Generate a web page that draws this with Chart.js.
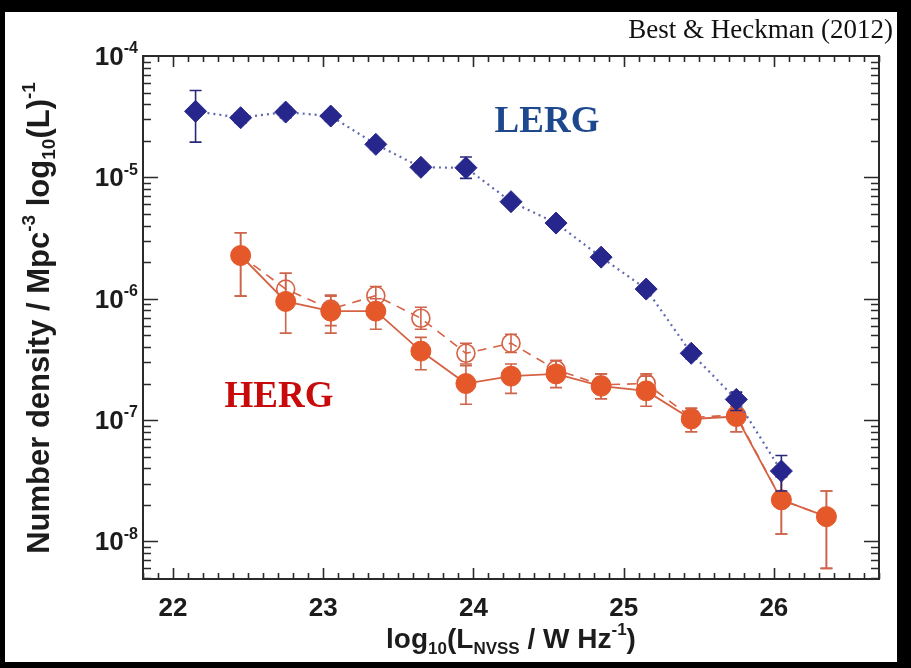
<!DOCTYPE html>
<html lang="en">
<head>
<meta charset="UTF-8">
<title>LERG / HERG radio luminosity functions</title>
<script src="https://cdn.jsdelivr.net/npm/chart.js"></script>
<style>
  html, body { margin: 0; padding: 0; background: #000; }
  canvas { display: block; }
</style>
</head>
<body>
<canvas id="lf" width="911" height="668"></canvas>
<script>
// LERG (blue diamonds, dotted)
const lergX  = [22.15, 22.45, 22.75, 23.05, 23.35, 23.65, 23.95, 24.25, 24.55, 24.85, 25.15, 25.45, 25.75, 26.05];
const lergY  = [3.5e-5, 3.1e-5, 3.45e-5, 3.2e-5, 1.87e-5, 1.21e-5, 1.2e-5, 6.3e-6, 4.2e-6, 2.2e-6, 1.2e-6, 3.55e-7, 1.48e-7, 3.8e-8];
const lergHi = [5.2e-5, 3.4e-5, 3.8e-5, 3.5e-5, 2.0e-5, 1.3e-5, 1.47e-5, 6.8e-6, 4.5e-6, 2.35e-6, 1.3e-6, 3.9e-7, 1.7e-7, 5.1e-8];
const lergLo = [1.95e-5, 2.8e-5, 3.1e-5, 2.9e-5, 1.7e-5, 1.1e-5, 0.98e-5, 5.8e-6, 3.9e-6, 2.05e-6, 1.1e-6, 3.2e-7, 1.2e-7, 2.6e-8];

// HERG (filled circles, solid)
const hergX  = [22.45, 22.75, 23.05, 23.35, 23.65, 23.95, 24.25, 24.55, 24.85, 25.15, 25.45, 25.75, 26.05, 26.35];
const hergY  = [2.27e-6, 9.5e-7, 7.9e-7, 7.9e-7, 3.7e-7, 2.0e-7, 2.3e-7, 2.4e-7, 1.9e-7, 1.74e-7, 1.02e-7, 1.07e-7, 2.2e-8, 1.6e-8];
const hergHi = [3.5e-6, 1.62e-6, 1.07e-6, 1.0e-6, 4.8e-7, 2.8e-7, 2.9e-7, 3.1e-7, 2.4e-7, 2.3e-7, 1.25e-7, 1.3e-7, 3.4e-8, 2.6e-8];
const hergLo = [1.05e-6, 5.2e-7, 5.2e-7, 5.6e-7, 2.6e-7, 1.35e-7, 1.66e-7, 1.85e-7, 1.5e-7, 1.3e-7, 0.8e-7, 0.8e-7, 1.15e-8, 6e-9];

// HERG alternative (open circles, dashed)
const openY  = [2.27e-6, 1.2e-6, 8.2e-7, 1.06e-6, 6.9e-7, 3.55e-7, 4.3e-7, 2.6e-7, 1.95e-7, 2.0e-7, 1.05e-7, 1.1e-7, 2.2e-8, 1.6e-8];
const openHi = [3.5e-6, 1.62e-6, 1.05e-6, 1.26e-6, 8.5e-7, 4.3e-7, 5.1e-7, 3.1e-7, 2.4e-7, 2.4e-7, 1.25e-7, 1.3e-7, 3.4e-8, 2.6e-8];
const openLo = [1.05e-6, 8.5e-7, 6e-7, 8.6e-7, 5.6e-7, 2.9e-7, 3.6e-7, 2.1e-7, 1.5e-7, 1.6e-7, 0.8e-7, 0.8e-7, 1.15e-8, 6e-9];

// axis ticks
const xTickLabels = ['22', '23', '24', '25', '26'];
const yTickExps = [-4, -5, -6, -7, -8];

const BLUE = 'rgb(38,38,140)';
const ORANGE = 'rgb(228,88,42)';
const ORANGE_LINE = 'rgb(214,98,68)';
const INK = '#1c1c1c';
const SANS = '"Liberation Sans", Arial, sans-serif';
const SERIF = '"Liberation Serif", "Times New Roman", serif';

function pts(xs, ys) {
  return xs.map((x, i) => ({ x: x, y: ys[i] }));
}

// text with sub/superscripts, y is the baseline
function richText(ctx, parts, x, y, size, align) {
  const small = Math.round(size * 0.62);
  const fontFor = k => 'bold ' + (k ? small : size) + 'px ' + SANS;
  let w = 0;
  parts.forEach(([t, k]) => { ctx.font = fontFor(k); w += ctx.measureText(t).width; });
  let cx = align === 'right' ? x - w : align === 'center' ? x - w / 2 : x;
  ctx.textAlign = 'left';
  ctx.textBaseline = 'alphabetic';
  parts.forEach(([t, k]) => {
    ctx.font = fontFor(k);
    const dy = k === 'sup' ? -size * 0.45 : k === 'sub' ? size * 0.2 : 0;
    ctx.fillText(t, cx, y + dy);
    cx += ctx.measureText(t).width;
  });
}

const errSets = [
  { lo: lergLo, hi: lergHi, color: 'rgb(40,40,120)' },
  { lo: hergLo, hi: hergHi, color: 'rgb(205,100,75)' },
  { lo: openLo, hi: openHi, color: 'rgb(205,100,75)' }
];

const errorBars = {
  id: 'errorBars',
  beforeDatasetDraw(chart, args) {
    const e = errSets[args.index];
    if (!e) return;
    const ctx = chart.ctx, y = chart.scales.y;
    const meta = args.meta;
    ctx.save();
    ctx.strokeStyle = e.color;
    ctx.lineWidth = 1.6;
    meta.data.forEach((p, i) => {
      const top = y.getPixelForValue(e.hi[i]);
      const bot = y.getPixelForValue(e.lo[i]);
      ctx.beginPath();
      ctx.moveTo(p.x, top); ctx.lineTo(p.x, bot);
      ctx.moveTo(p.x - 6, top); ctx.lineTo(p.x + 6, top);
      ctx.moveTo(p.x - 6, bot); ctx.lineTo(p.x + 6, bot);
      ctx.stroke();
    });
    ctx.restore();
  }
};

const frame = {
  id: 'frame',
  beforeDraw(chart) {
    const ctx = chart.ctx;
    ctx.save();
    ctx.fillStyle = '#000';
    ctx.fillRect(0, 0, chart.width, chart.height);
    ctx.fillStyle = '#fff';
    ctx.fillRect(5, 12, 892, 650);
    ctx.restore();
  },
  afterDraw(chart) {
    const { ctx, chartArea: a, scales: { x, y } } = chart;
    ctx.save();
    ctx.strokeStyle = '#2a2a2a';
    ctx.lineWidth = 1.6;
    ctx.beginPath();
    // x ticks every 0.1, inward on bottom and top
    for (let v = 218; v <= 267; v++) {
      const px = Math.round(x.getPixelForValue(v / 10)) + 0.5;
      const len = v % 10 === 0 ? 11 : 6;
      ctx.moveTo(px, a.bottom); ctx.lineTo(px, a.bottom - len);
      ctx.moveTo(px, a.top); ctx.lineTo(px, a.top + len);
    }
    // y ticks at 1..9 x 10^n, inward on left and right
    for (let e = -9; e <= -5; e++) {
      for (let m = 1; m <= 9; m++) {
        const val = m * Math.pow(10, e);
        if (val < y.min || val > y.max) continue;
        const py = Math.round(y.getPixelForValue(val)) + 0.5;
        const len = m === 1 ? 15 : 8;
        ctx.moveTo(a.left, py); ctx.lineTo(a.left + len, py);
        ctx.moveTo(a.right, py); ctx.lineTo(a.right - len, py);
      }
    }
    ctx.stroke();
    ctx.lineWidth = 2;
    ctx.strokeRect(a.left, a.top, a.right - a.left, a.bottom - a.top);

    // tick labels
    ctx.fillStyle = INK;
    xTickLabels.forEach(t => {
      richText(ctx, [[t, '']], x.getPixelForValue(Number(t)), a.bottom + 37, 26, 'center');
    });
    yTickExps.forEach(ex => {
      const py = y.getPixelForValue(Math.pow(10, ex));
      richText(ctx, [['10', ''], ['-' + Math.abs(ex), 'sup']], a.left - 5, py + 9, 26, 'right');
    });

    // axis titles
    richText(ctx, [['log', ''], ['10', 'sub'], ['(L', ''], ['NVSS', 'sub'], [' / W Hz', ''], ['-1', 'sup'], [')', '']],
      511, 648, 28, 'center');
    ctx.save();
    ctx.translate(49, 318);
    ctx.rotate(-Math.PI / 2);
    richText(ctx, [['Number density / Mpc', ''], ['-3', 'sup'], [' log', ''], ['10', 'sub'], ['(L)', ''], ['-1', 'sup']],
      0, 0, 31, 'center');
    ctx.restore();

    // annotations
    ctx.textAlign = 'center';
    ctx.textBaseline = 'middle';
    ctx.font = 'bold 37px ' + SERIF;
    ctx.fillStyle = 'rgb(30,72,142)';
    ctx.fillText('LERG', 547, 122);
    ctx.fillStyle = 'rgb(200,10,10)';
    ctx.fillText('HERG', 279, 397);

    ctx.font = '27px ' + SERIF;
    ctx.fillStyle = '#111';
    ctx.textAlign = 'right';
    ctx.textBaseline = 'alphabetic';
    ctx.fillText('Best & Heckman (2012)', 893, 38);
    ctx.restore();
  }
};

new Chart(document.getElementById('lf'), {
  type: 'line',
  data: {
    datasets: [
      {
        label: 'LERG',
        data: pts(lergX, lergY),
        order: 0,
        borderColor: 'rgb(95,105,175)',
        borderWidth: 2.2,
        borderDash: [2, 4],
        pointStyle: 'rectRot',
        pointRadius: 11,
        pointBackgroundColor: BLUE,
        pointBorderColor: BLUE,
        pointBorderWidth: 1
      },
      {
        label: 'HERG',
        data: pts(hergX, hergY),
        order: 1,
        borderColor: ORANGE_LINE,
        borderWidth: 1.8,
        pointStyle: 'circle',
        pointRadius: 10,
        pointBackgroundColor: ORANGE,
        pointBorderColor: ORANGE,
        pointBorderWidth: 1
      },
      {
        label: 'HERG (alt)',
        data: pts(hergX, openY),
        order: 2,
        borderColor: ORANGE_LINE,
        borderWidth: 1.6,
        borderDash: [9, 7],
        pointStyle: 'circle',
        pointRadius: 9,
        pointBackgroundColor: 'rgba(255,255,255,0)',
        pointBorderColor: ORANGE_LINE,
        pointBorderWidth: 1.6
      }
    ]
  },
  options: {
    responsive: false,
    animation: false,
    devicePixelRatio: 1,
    layout: { padding: { top: 56, right: 32, left: 0, bottom: 0 } },
    plugins: { legend: { display: false }, tooltip: { enabled: false } },
    scales: {
      x: {
        type: 'linear', min: 21.8, max: 26.7,
        grid: { display: false }, border: { display: false },
        ticks: { display: false },
        afterFit: s => { s.height = 89; }
      },
      y: {
        type: 'logarithmic', min: 4.9e-9, max: 1e-4,
        grid: { display: false }, border: { display: false },
        ticks: { display: false },
        afterFit: s => { s.width = 143; }
      }
    }
  },
  plugins: [errorBars, frame]
});
</script>
</body>
</html>
